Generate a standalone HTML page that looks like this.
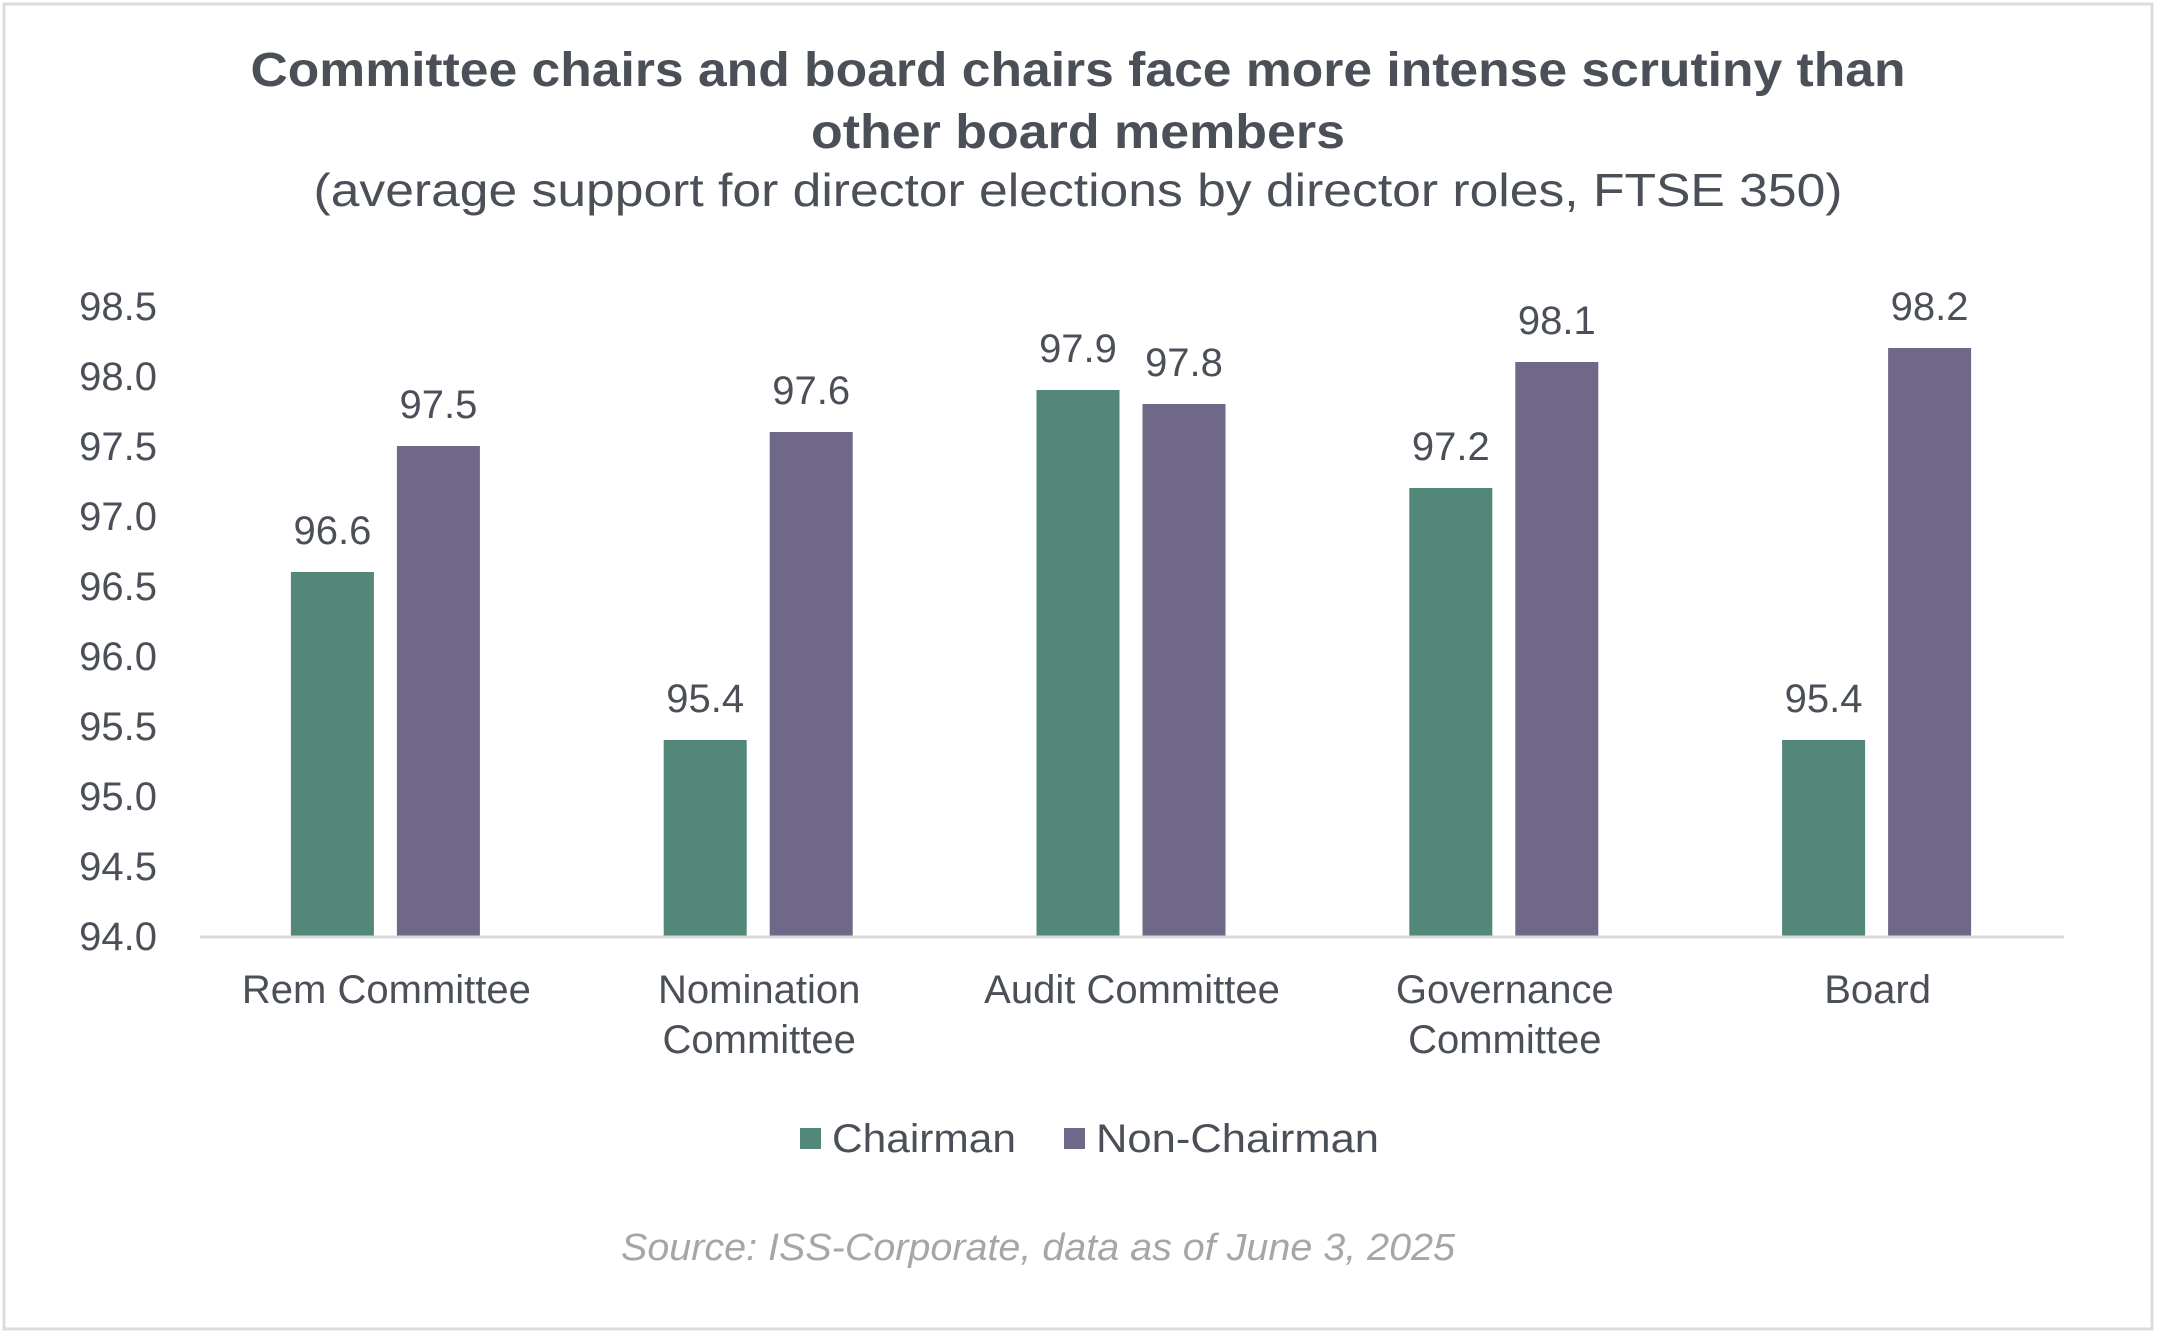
<!DOCTYPE html>
<html><head><meta charset="utf-8"><style>
html,body{margin:0;padding:0;background:#fff;}
svg{display:block;font-family:"Liberation Sans",sans-serif;}
</style></head><body>
<svg id="chart" width="2158" height="1333" viewBox="0 0 2158 1333">
<rect x="4" y="4" width="2148" height="1325" fill="#fff" stroke="#dcdcdc" stroke-width="3"/>
<text x="1078" y="86" text-anchor="middle" font-size="48" font-weight="bold" fill="#4b5058" textLength="1655" lengthAdjust="spacingAndGlyphs">Committee chairs and board chairs face more intense scrutiny than</text>
<text x="1078" y="148" text-anchor="middle" font-size="48" font-weight="bold" fill="#4b5058" textLength="534" lengthAdjust="spacingAndGlyphs">other board members</text>
<text x="1078" y="206" text-anchor="middle" font-size="46" fill="#4b5058" textLength="1529" lengthAdjust="spacingAndGlyphs">(average support for director elections by director roles, FTSE 350)</text>
<g id="plot"></g>
<g>
<rect x="800" y="1128" width="21" height="21" fill="#52877a"/>
<text x="832" y="1152" font-size="40" fill="#4b5058" textLength="184" lengthAdjust="spacingAndGlyphs">Chairman</text>
<rect x="1064" y="1128" width="21" height="21" fill="#6f6889"/>
<text x="1096" y="1152" font-size="40" fill="#4b5058" textLength="283" lengthAdjust="spacingAndGlyphs">Non-Chairman</text>
</g>
<text x="1038" y="1260" text-anchor="middle" font-size="38" font-style="italic" fill="#a6a6a6" textLength="834" lengthAdjust="spacingAndGlyphs">Source: ISS-Corporate, data as of June 3, 2025</text>
</svg>
<script>
const categories = [["Rem Committee"],["Nomination","Committee"],["Audit Committee"],["Governance","Committee"],["Board"]];
const chairman = [96.6, 95.4, 97.9, 97.2, 95.4];
const nonChairman = [97.5, 97.6, 97.8, 98.1, 98.2];
const yTicks = ["94.0","94.5","95.0","95.5","96.0","96.5","97.0","97.5","98.0","98.5"];

const NS = "http://www.w3.org/2000/svg";
const g = document.getElementById("plot");
const x0 = 200, x1 = 2064, yBase = 936, yTop = 306, yMin = 94, yMax = 98.5;
const y = v => yBase - (v - yMin) / (yMax - yMin) * (yBase - yTop);
const bw = (x1 - x0) / categories.length;
const cx = i => x0 + bw * (i + 0.5);
function mk(tag, attrs, text) {
  const e = document.createElementNS(NS, tag);
  for (const k in attrs) e.setAttribute(k, attrs[k]);
  if (text !== undefined) e.textContent = text;
  g.appendChild(e);
  return e;
}
yTicks.forEach(t => {
  const e = mk("text", {x: 157, y: y(parseFloat(t)) + 14, "text-anchor": "end", "font-size": 40, fill: "#4b5058"}, t);
  
  
});
const barW = 83, gap = 23;
const series = [[chairman, "#52877a", "chairman"], [nonChairman, "#6f6889", "non-chairman"]];
categories.forEach((c, i) => {
  series.forEach((s, j) => {
    const v = s[0][i];
    const bx = cx(i) - gap / 2 - barW + j * (barW + gap) - 1;
    const r = mk("rect", {x: bx, y: y(v), width: barW, height: yBase - y(v), fill: s[1]});
    
    
    const t = mk("text", {x: bx + barW / 2, y: y(v) - 28, "text-anchor": "middle", "font-size": 40, fill: "#4b5058"}, v.toFixed(1));
    
    
  });
  c.forEach((line, k) => {
    const t = mk("text", {x: cx(i), y: 1003 + k * 50, "text-anchor": "middle", "font-size": 40, fill: "#4b5058"}, line);
    
    
  });
});
const ax = mk("line", {x1: x0, x2: x1, y1: yBase + 1, y2: yBase + 1, stroke: "#d9d9d9", "stroke-width": 3});


</script>
</body></html>
